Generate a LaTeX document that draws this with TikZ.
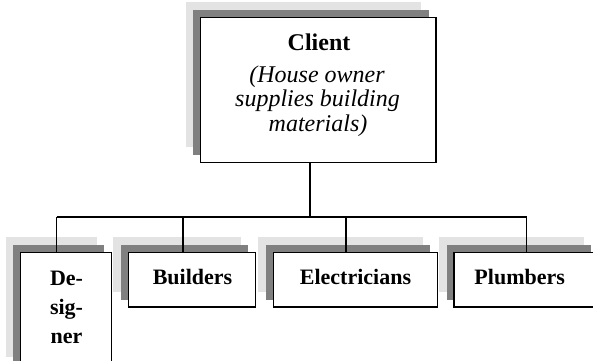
\documentclass[tikz,border=0pt]{standalone}
\usepackage{fontspec}
\setmainfont{Liberation Serif}
\definecolor{shadelight}{HTML}{E3E3E3}
\definecolor{shadedark}{HTML}{808080}
\tikzset{
  orgbox/.style={draw=black, line width=1.3pt, fill=white, rectangle,
    inner sep=0pt, outer sep=0pt, anchor=north west},
  bigtxt/.style={inner sep=0pt, anchor=base, font=\fontsize{24}{26}\selectfont},
  smalltxt/.style={inner sep=0pt, anchor=base, font=\fontsize{22}{24}\selectfont\bfseries},
  link/.style={draw=black, line width=1.3pt},
}
% box with two stacked drop shadows up and to the left
\newcommand{\shadedbox}[5]{%
  \fill[shadelight] (#2-15,#3-15) rectangle (#4-15,#5-15);
  \fill[shadedark] (#2-7.5,#3-7.5) rectangle (#4-7.5,#5-7.5);
  \node[orgbox, minimum width=#4pt-#2pt, minimum height=#5pt-#3pt] (#1) at (#2,#3) {};
}
\begin{document}
\begin{tikzpicture}[x=1pt, y=-1pt]
\useasboundingbox (0,0) rectangle (593,360);
\clip (0,0) rectangle (593,360);

% connectors (drawn first so the boxes sit on top)
\coordinate (bar) at (310,217);
\coordinate (barL) at (56.7,217);
\coordinate (barR) at (526.7,217);

\shadedbox{client}{200.7}{17.3}{436}{162.3}
\shadedbox{designer}{20.7}{252.3}{111.7}{372}
\shadedbox{builders}{128.3}{252.3}{255.7}{307}
\shadedbox{electricians}{273.3}{252.3}{437.7}{307}
\shadedbox{plumbers}{454}{252.3}{598.5}{307}

\draw[link] (client.south -| bar) -- (bar);
\draw[link] (barL) -- (barR);
\draw[link] (barL) -- (designer.north -| barL);
\draw[link] (183,217) -- (builders.north -| 183,0);
\draw[link] (346,217) -- (electricians.north -| 346,0);
\draw[link] (barR) -- (plumbers.north -| barR);

% client text
\node[bigtxt, font=\fontsize{24}{26}\selectfont\bfseries] (ct1) at (319,50) {Client};
\node[bigtxt, font=\fontsize{24}{26}\selectfont\itshape] (ct2) at (317,82) {(House owner};
\node[bigtxt, font=\fontsize{24}{26}\selectfont\itshape] (ct3) at (317.5,106.5) {supplies building};
\node[bigtxt, font=\fontsize{24}{26}\selectfont\itshape] (ct4) at (318,131) {materials)};

% lower row text
\node[smalltxt] (dt1) at (66.5,285) {De-};
\node[smalltxt] (dt2) at (66.5,314) {sig-};
\node[smalltxt] (dt3) at (66.5,343) {ner};
\node[smalltxt] (bt) at (192.5,284.5) {Builders};
\node[smalltxt] (et) at (355.5,284.5) {Electricians};
\node[smalltxt] (pt) at (519.7,284.5) {Plumbers};
\end{tikzpicture}
\end{document}
